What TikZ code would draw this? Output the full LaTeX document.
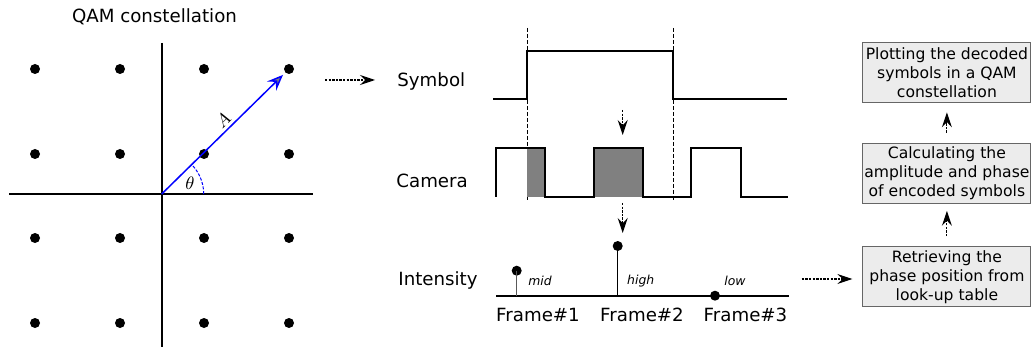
\documentclass[tikz,border=0pt]{standalone}
\usepackage{fontspec}
\setmainfont{DejaVu Sans}
\usetikzlibrary{arrows.meta}

\begin{document}
\begin{tikzpicture}[
  x=0.5pt, y=-0.5pt,
  every node/.style={font=\fontsize{9.1}{11}\selectfont, inner sep=0pt},
  flow/.style={line width=0.55pt, dash pattern=on 1.2pt off 0.6pt, -{Stealth[length=7.5pt, width=5pt, inset=2.6pt]}},
  guide/.style={line width=0.3pt, dash pattern=on 2pt off 1pt},
  wave/.style={line width=1pt},
  stem/.style={line width=0.75pt},
  dot/.style={circle, fill=black, inner sep=0pt, minimum size=5pt},
  tag/.style={font=\fontsize{6.2}{7}\selectfont\itshape},
  vec/.style={blue, line width=0.75pt, -{Stealth[length=8pt, width=6.5pt, inset=3pt, fill=gray]}},
  stepbox/.style={draw=gray!80!black, fill=gray!15, line width=0.5pt, minimum width=84pt, minimum height=30pt, align=center, font=\fontsize{7.8}{9.5}\selectfont}
]
  \useasboundingbox (0,0) rectangle (1032,347);

  \node (title) at (154.5,17) {QAM constellation};
  \draw[wave] (9,194) -- (313,194);
  \draw[wave] (161.7,43) -- (161.7,347);
  \coordinate (o) at (161.7,194);
  \foreach \x [count=\i] in {35,120,204,289}
    \foreach \y [count=\j] in {69,154,238,323}
      \node[dot] (d\i\j) at (\x,\y) {};
  \draw[vec, shorten >=1.5pt] (o) -- (d41);
  \draw[blue, line width=0.5pt, dash pattern=on 1.5pt off 0.8pt] (203.7,194) arc[start angle=0, end angle=-44.5, radius=42];
  \node[rotate=44.5] (amp) at (223,120) {$A$};
  \node (theta) at (190,183) {$\theta$};

  \coordinate (q1) at (325,80);
  \coordinate (q2) at (375,80);
  \draw[flow] (q1) -- (q2);

  \node[anchor=west] (sym) at (397,81) {Symbol};
  \node[anchor=west] (cam) at (396,181) {Camera};
  \node[anchor=west] (int) at (398,280) {Intensity};

  \draw[guide] (527,28) -- (527,200);
  \draw[guide] (673,28) -- (673,200);
  \draw[wave] (493,99.3) -- (527,99.3) -- (527,50.7) -- (673,50.7) -- (673,99.3) -- (787,99.3);

  \fill[gray] (527,148.3) rectangle (545,196.7);
  \fill[gray] (594,148.3) rectangle (642.7,196.7);
  \draw[wave] (495.7,196.7) -- (495.7,148.3) -- (545,148.3) -- (545,196.7) -- (594,196.7) -- (594,148.3)
    -- (642.7,148.3) -- (642.7,196.7) -- (691,196.7) -- (691,148.3) -- (740.7,148.3) -- (740.7,196.7) -- (788,196.7);

  \coordinate (a1) at (622.7,110);
  \coordinate (a2) at (622.7,135);
  \coordinate (a3) at (622.7,203);
  \coordinate (a4) at (622.7,233);
  \draw[flow] (a1) -- (a2);
  \draw[flow] (a3) -- (a4);

  \draw[wave] (496,295.7) -- (789,295.7);
  \node[dot] (s1) at (516.7,270.7) {};
  \node[dot] (s2) at (617.7,246) {};
  \node[dot] (s3) at (715,295.7) {};
  \draw[stem, gray!70!black] (s1.center) -- (516.7,295.7);
  \draw[stem] (s2.center) -- (617.7,295.7);
  \node[tag] (mid) at (540,281) {mid};
  \node[tag] (high) at (640.7,281) {high};
  \node[tag] (low) at (735,281) {low};
  \node (f1) at (538,315) {Frame\#1};
  \node (f2) at (642,315) {Frame\#2};
  \node (f3) at (745.5,315) {Frame\#3};

  \node[stepbox] (box1) at (946.9,72.8) {Plotting the decoded\\symbols in a QAM\\constellation};
  \node[stepbox] (box2) at (946.9,173.3) {Calculating the\\amplitude and phase\\of encoded symbols};
  \node[stepbox] (box3) at (946.9,276.7) {Retrieving the\\phase position from\\look-up table};

  \coordinate (i1) at (801.7,279);
  \draw[flow, shorten >=5pt] (i1) -- (i1 -| box3.west);
  \draw[flow, shorten <=5pt, shorten >=3.5pt] (box3) -- (box2);
  \draw[flow, shorten <=5pt, shorten >=4.5pt] (box2) -- (box1);
\end{tikzpicture}
\end{document}
